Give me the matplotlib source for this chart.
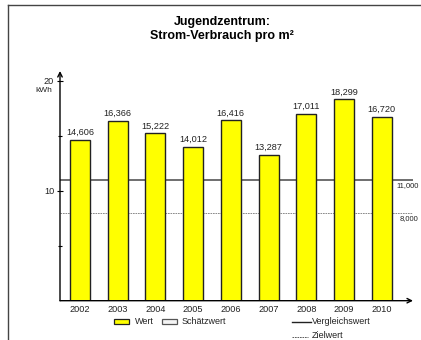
import matplotlib

matplotlib.use("Agg")
import matplotlib.pyplot as plt
from matplotlib.lines import Line2D
from matplotlib.patches import Rectangle

plt.rcParams["font.family"] = ["Liberation Sans", "DejaVu Sans"]

years = ["2002", "2003", "2004", "2005", "2006", "2007", "2008", "2009", "2010"]
values = [14.606, 16.366, 15.222, 14.012, 16.416, 13.287, 17.011, 18.299, 16.720]
value_labels = ["14,606", "16,366", "15,222", "14,012", "16,416", "13,287", "17,011", "18,299", "16,720"]
vergleich = 11.0
ziel = 8.0

W, H = 421, 340
fig = plt.figure(figsize=(W / 100, H / 100), dpi=100)


def fx(px):
    return px / W


def fy(py):
    return 1 - py / H


# frame lines (left and top)
fig.add_artist(Line2D([fx(7.5), fx(7.5)], [fy(5), fy(340)], color="#444444", lw=1.0))
fig.add_artist(Line2D([fx(7.5), fx(421)], [fy(5), fy(5)], color="#444444", lw=1.0))

ax = fig.add_axes([fx(60), fy(300.7), fx(413) - fx(60), fy(71) - fy(300.7)])
ax.set_xlim(-0.53, 8.83)
ax.set_ylim(0, 20.88)
for s in ax.spines.values():
    s.set_visible(False)

x = list(range(len(years)))
ax.bar(x, values, width=0.53, color="#ffff00", edgecolor="#222222", linewidth=1.0, zorder=3)
for xi, v, lab in zip(x, values, value_labels):
    ax.text(xi, v + 0.25, lab, ha="center", va="bottom", fontsize=6.6, color="#222222")

ax.axhline(vergleich, color="#555555", lw=1.2, zorder=2)
ax.axhline(ziel, color="#777777", lw=0.6, ls=(0, (2, 1)), zorder=2)
ax.text(0.952, vergleich - 0.2, "11,000", transform=ax.get_yaxis_transform(),
        ha="left", va="top", fontsize=5.5, color="#222222", clip_on=False)
ax.text(0.962, ziel - 0.2, "8,000", transform=ax.get_yaxis_transform(),
        ha="left", va="top", fontsize=5.5, color="#222222", clip_on=False)

# axes with arrows
ax.annotate("", xy=(0, 1.0), xytext=(0, 0), xycoords="axes fraction",
            arrowprops=dict(arrowstyle="->", color="black", lw=1.0, mutation_scale=8,
                            shrinkA=0, shrinkB=0))
ax.annotate("", xy=(1.0, 0), xytext=(0, 0), xycoords="axes fraction",
            arrowprops=dict(arrowstyle="->", color="black", lw=1.0, mutation_scale=8,
                            shrinkA=0, shrinkB=0))

ax.set_xticks(x)
ax.set_xticklabels(years, fontsize=6.6, color="#222222")
ax.tick_params(axis="x", length=0, pad=3)
ax.set_yticks([10, 20])
ax.set_yticklabels(["10", "20"], fontsize=6.6, color="#222222")
ax.set_yticks([5, 15], minor=True)
ax.tick_params(axis="y", which="major", direction="inout", length=4.5, width=0.8, pad=2)
ax.tick_params(axis="y", which="minor", direction="inout", length=2.5, width=0.8)
ax.text(-0.022, 20 - 0.85, "kWh", transform=ax.get_yaxis_transform(), ha="right",
        va="center", fontsize=6, color="#222222")

fig.text(fx(222), fy(22), "Jugendzentrum:", ha="center", va="center",
         fontsize=9, fontweight="bold")
fig.text(fx(222), fy(35.5), "Strom-Verbrauch pro m²", ha="center", va="center",
         fontsize=9, fontweight="bold")

# legend
fig.add_artist(Rectangle((fx(114), fy(323.5)), fx(129) - fx(114), fy(318.5) - fy(323.5),
                         facecolor="#ffff00", edgecolor="#222222", lw=0.9))
fig.text(fx(135), fy(322), "Wert", ha="left", va="center", fontsize=6.5, color="#222222")
fig.add_artist(Rectangle((fx(162), fy(323.5)), fx(177) - fx(162), fy(318.5) - fy(323.5),
                         facecolor="#f4f4f4", edgecolor="#555555", lw=0.9))
fig.text(fx(182), fy(322), "Schätzwert", ha="left", va="center", fontsize=6.5, color="#222222")
fig.add_artist(Line2D([fx(292), fx(311)], [fy(322), fy(322)], color="#222222", lw=1.0))
fig.text(fx(312), fy(322), "Vergleichswert", ha="left", va="center", fontsize=6.5, color="#222222")
fig.add_artist(Line2D([fx(292), fx(308)], [fy(336.5), fy(336.5)], color="#444444", lw=0.6,
                      ls=(0, (2, 1))))
fig.text(fx(312), fy(335.5), "Zielwert", ha="left", va="center", fontsize=6.5, color="#222222")

fig.savefig("out.png", dpi=100, facecolor="white")
